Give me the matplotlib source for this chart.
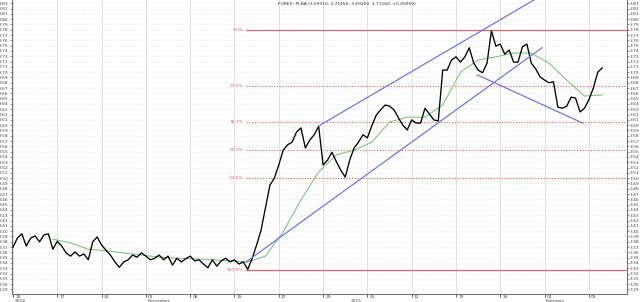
import numpy as np
import matplotlib.pyplot as plt
from matplotlib.transforms import blended_transform_factory

# closes sampled every half trading day from Mon 10 Nov 2014
price = [3.370, 3.387, 3.395, 3.372, 3.387, 3.391, 3.380, 3.393, 3.395, 3.366,
         3.381, 3.372, 3.359, 3.353, 3.361, 3.353, 3.357, 3.346, 3.380, 3.389,
         3.374, 3.364, 3.355, 3.342, 3.332, 3.342, 3.346, 3.355, 3.351, 3.359,
         3.353, 3.346, 3.349, 3.355, 3.346, 3.353, 3.336, 3.349, 3.342, 3.348,
         3.353, 3.344, 3.346, 3.338, 3.331, 3.346, 3.334, 3.344, 3.349, 3.342,
         3.346, 3.338, 3.342, 3.328, 3.349, 3.374, 3.402, 3.444, 3.487, 3.500,
         3.525, 3.553, 3.563, 3.568, 3.587, 3.595, 3.557, 3.572, 3.582, 3.598,
         3.525, 3.534, 3.549, 3.531, 3.515, 3.502, 3.534, 3.557, 3.568, 3.582,
         3.576, 3.599, 3.619, 3.629, 3.638, 3.636, 3.629, 3.614, 3.600, 3.591,
         3.610, 3.604, 3.604, 3.632, 3.621, 3.610, 3.608, 3.704, 3.704, 3.723,
         3.729, 3.719, 3.729, 3.746, 3.717, 3.704, 3.699, 3.717, 3.778, 3.749,
         3.753, 3.734, 3.742, 3.719, 3.719, 3.748, 3.753, 3.717, 3.706, 3.691,
         3.685, 3.680, 3.682, 3.634, 3.632, 3.636, 3.653, 3.651, 3.625, 3.632,
         3.648, 3.670, 3.700, 3.708]
step = 0.5

# moving average, every 2 trading days
ma_start = 4.5
ma = [3.385, 3.378, 3.366, 3.363, 3.359, 3.355, 3.351, 3.349, 3.348, 3.346,
      3.344, 3.342, 3.353, 3.399, 3.459, 3.512, 3.544, 3.553, 3.568, 3.606,
      3.615, 3.615, 3.638, 3.700, 3.723, 3.729, 3.736, 3.736, 3.717, 3.685,
      3.655, 3.657]

week_labels = ["10", "17", "24", "01", "08", "15", "22", "29",
               "05", "12", "19", "26", "02", "09"]
period_pos = [0, 15, 38, 60]
period_labels = ["2014", "December", "2015", "February"]

fib_high, fib_low = 3.78, 3.327
fib_start = 26.3
fib_ratios = [0.0, 0.236, 0.382, 0.5, 0.618, 1.0]

chan_low_t, chan_low_v = [26.3, 59.7], [3.342, 3.746]
chan_high_t, chan_high_v = [34.65, 59.7], [3.600, 3.845]
down_t, down_v = [52.4, 64.3], [3.695, 3.604]

title = "FOREX: PLNA (3.69310, 3.71450, 3.69200, 3.71160, +0.00950)"

fs = 3.2
fig = plt.figure(figsize=(6.4, 3.02), dpi=100)
ax = fig.add_axes([12 / 640, 8 / 302, 615 / 640, 294 / 302])

t = np.arange(len(price)) * step
ma_t = ma_start + np.arange(len(ma)) * 2.0

ax.set_xlim(-0.11, 69.3)
ax.set_ylim(3.2815, 3.8362)

# grid
yt = np.round(np.arange(3.29, 3.835, 0.01), 2)
for v in yt:
    ax.axhline(v, color="#dedede", lw=0.5, ls=(0, (1, 2)), zorder=0)
for i in range(len(week_labels)):
    ax.axvline(i * 5, color="#dcdcdc", lw=0.6, zorder=0)

# fibonacci retracement
for r in fib_ratios:
    lv = fib_high - r * (fib_high - fib_low)
    ls = "-" if r in (0.0, 1.0) else (0, (1, 1.5))
    ax.plot([fib_start, 69.3], [lv, lv], color="#e8585a", lw=0.8, ls=ls, zorder=1)
    ax.text(fib_start - 0.3, lv, "%.1f%%" % (r * 100), color="#e8585a",
            fontsize=fs, ha="right", va="center")

ax.plot(ma_t, ma, color="#7cc87c", lw=0.8, zorder=2)
ax.plot(t, price, color="black", lw=0.95, zorder=3)

blue = "#7474dc"
ax.plot(chan_low_t, chan_low_v, color=blue, lw=0.9, zorder=4)
ax.plot(chan_high_t, chan_high_v, color=blue, lw=0.9, zorder=4)
ax.plot(down_t, down_v, color=blue, lw=0.9, zorder=4)

# axes styling
ax.spines["top"].set_visible(False)
for s in ["left", "right", "bottom"]:
    ax.spines[s].set_color("#555555")
    ax.spines[s].set_linewidth(0.6)

ax.set_yticks(yt)
ax.set_yticklabels(["%.2f" % v for v in yt])
ax.tick_params(axis="y", which="both", labelsize=fs, length=1.5, width=0.4,
               pad=0.8, left=True, right=True, labelleft=True, labelright=True,
               colors="#444444")
ax.set_xticks([i * 5 for i in range(len(week_labels))])
ax.set_xticklabels([])
ax.tick_params(axis="x", length=2.5, width=0.6, colors="#444444")

tr = blended_transform_factory(ax.transData, ax.transAxes)
for i, lab in enumerate(week_labels):
    ax.text(i * 5 + 0.25, -0.004, lab, transform=tr, fontsize=fs, ha="left",
            va="top", color="#444444")
for p, lab in zip(period_pos, period_labels):
    ax.text(p + 0.15, -0.018, lab, transform=tr, fontsize=fs, ha="left",
            va="top", color="#444444")

fig.text(278 / 640, 1 - 4 / 302, title, fontsize=fs, ha="left", va="center",
         color="#333333")

fig.savefig("out.png", dpi=100)
